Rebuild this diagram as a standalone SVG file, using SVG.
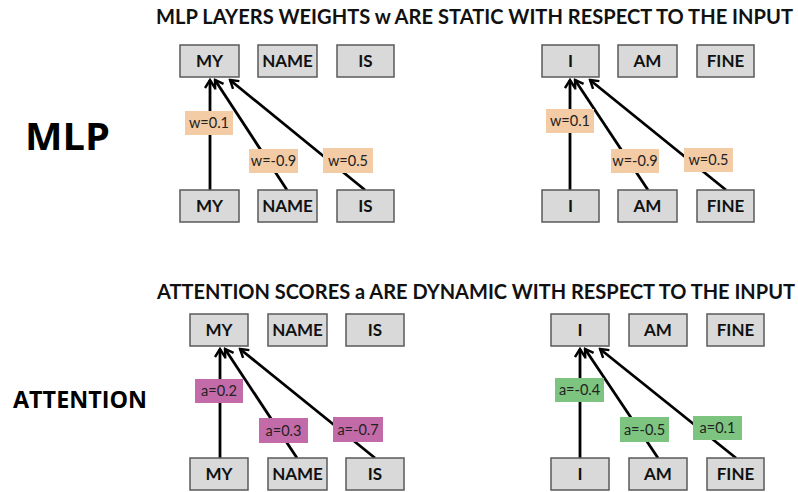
<svg xmlns="http://www.w3.org/2000/svg" width="798" height="492" viewBox="0 0 798 492">
<style>
.bg{fill:#ffffff}
.box{fill:#d9d9d9;stroke:#595959;stroke-width:1.5}
.bt{font-family:Lato,"Open Sans",sans-serif;font-weight:bold;font-size:17px;fill:#111;text-anchor:middle}
.title{font-family:Lato,"Open Sans",sans-serif;font-weight:bold;font-size:20px;fill:#111}
.side{font-family:"Open Sans","Noto Sans",sans-serif;font-weight:bold;fill:#000}
.lt{font-family:Lato,"Open Sans",sans-serif;font-size:14.5px;fill:#222;text-anchor:middle}
.w{fill:#f3cba4}
.ap{fill:#c26ba8}
.ag{fill:#7cc47f}
.edge{stroke:#000;stroke-width:2.8;fill:none;marker-end:url(#arr)}
</style>
<defs>
<marker id="arr" viewBox="0 0 12 12" refX="10" refY="6" markerWidth="12" markerHeight="12" markerUnits="userSpaceOnUse" orient="auto">
<path d="M2,1 L10,6 L2,11" fill="none" stroke="#000" stroke-width="2.4"/>
</marker>
</defs>
<rect class="bg" x="0" y="0" width="798" height="492"/>
<text class="title" x="156" y="24" textLength="637" lengthAdjust="spacingAndGlyphs">MLP LAYERS WEIGHTS w ARE STATIC WITH RESPECT TO THE INPUT</text>
<text class="title" x="157" y="299" textLength="638" lengthAdjust="spacingAndGlyphs">ATTENTION SCORES a ARE DYNAMIC WITH RESPECT TO THE INPUT</text>
<text class="side" x="25" y="150" font-size="38" textLength="85" lengthAdjust="spacingAndGlyphs">MLP</text>
<text class="side" x="13" y="408" font-size="23" textLength="134" lengthAdjust="spacingAndGlyphs">ATTENTION</text>

<!-- MLP left -->
<g transform="translate(180,45)">
<g id="connectors-mlp1">
<line class="edge" x1="30" y1="145" x2="30" y2="35"/>
<line class="edge" x1="107" y1="145" x2="35" y2="35"/>
<line class="edge" x1="185" y1="145" x2="50" y2="35"/>
</g>
<g id="mlp1-out-my"><rect class="box" x="0" y="0" width="59" height="32"/><text class="bt" x="29.5" y="22">MY</text></g>
<g id="mlp1-out-name"><rect class="box" x="78" y="0" width="59" height="32"/><text class="bt" x="107.5" y="22">NAME</text></g>
<g id="mlp1-out-is"><rect class="box" x="157" y="0" width="57" height="32"/><text class="bt" x="185.5" y="22">IS</text></g>
<g id="mlp1-in-my"><rect class="box" x="0" y="145" width="59" height="32"/><text class="bt" x="29.5" y="167">MY</text></g>
<g id="mlp1-in-name"><rect class="box" x="78" y="145" width="59" height="32"/><text class="bt" x="107.5" y="167">NAME</text></g>
<g id="mlp1-in-is"><rect class="box" x="157" y="145" width="57" height="32"/><text class="bt" x="185.5" y="167">IS</text></g>
<g id="mlp1-w1"><rect class="w" x="5" y="66" width="48" height="24"/><text class="lt" x="29" y="83">w=0.1</text></g>
<g id="mlp1-w2"><rect class="w" x="69" y="104" width="49" height="24"/><text class="lt" x="93.5" y="121">w=-0.9</text></g>
<g id="mlp1-w3"><rect class="w" x="143" y="103" width="50" height="25"/><text class="lt" x="168" y="120.5">w=0.5</text></g>
</g>

<!-- MLP right -->
<g transform="translate(542,45)">
<g id="connectors-mlp2">
<line class="edge" x1="28" y1="145" x2="28" y2="35"/>
<line class="edge" x1="106" y1="145" x2="33" y2="35"/>
<line class="edge" x1="184" y1="145" x2="48" y2="35"/>
</g>
<g id="mlp2-out-i"><rect class="box" x="0" y="0" width="57" height="32"/><text class="bt" x="28.5" y="22">I</text></g>
<g id="mlp2-out-am"><rect class="box" x="76" y="0" width="59" height="32"/><text class="bt" x="105.5" y="22">AM</text></g>
<g id="mlp2-out-fine"><rect class="box" x="155" y="0" width="57" height="32"/><text class="bt" x="183.5" y="22">FINE</text></g>
<g id="mlp2-in-i"><rect class="box" x="0" y="145" width="57" height="32"/><text class="bt" x="28.5" y="167">I</text></g>
<g id="mlp2-in-am"><rect class="box" x="76" y="145" width="59" height="32"/><text class="bt" x="105.5" y="167">AM</text></g>
<g id="mlp2-in-fine"><rect class="box" x="155" y="145" width="57" height="32"/><text class="bt" x="183.5" y="167">FINE</text></g>
<g id="mlp2-w1"><rect class="w" x="4" y="64" width="48" height="24"/><text class="lt" x="28" y="81">w=0.1</text></g>
<g id="mlp2-w2"><rect class="w" x="69" y="104" width="48" height="24"/><text class="lt" x="93" y="121">w=-0.9</text></g>
<g id="mlp2-w3"><rect class="w" x="142" y="103" width="49" height="24"/><text class="lt" x="166.5" y="120">w=0.5</text></g>
</g>

<!-- Attention left -->
<g transform="translate(190,314)">
<g id="connectors-att1">
<line class="edge" x1="30" y1="144" x2="30" y2="35"/>
<line class="edge" x1="107" y1="144" x2="35" y2="35"/>
<line class="edge" x1="185" y1="144" x2="50" y2="35"/>
</g>
<g id="att1-out-my"><rect class="box" x="0" y="0" width="58" height="32"/><text class="bt" x="29" y="22">MY</text></g>
<g id="att1-out-name"><rect class="box" x="78" y="0" width="59" height="32"/><text class="bt" x="107.5" y="22">NAME</text></g>
<g id="att1-out-is"><rect class="box" x="156" y="0" width="58" height="32"/><text class="bt" x="185" y="22">IS</text></g>
<g id="att1-in-my"><rect class="box" x="0" y="144" width="58" height="32"/><text class="bt" x="29" y="166">MY</text></g>
<g id="att1-in-name"><rect class="box" x="78" y="144" width="59" height="32"/><text class="bt" x="107.5" y="166">NAME</text></g>
<g id="att1-in-is"><rect class="box" x="156" y="144" width="58" height="32"/><text class="bt" x="185" y="166">IS</text></g>
<g id="att1-a1"><rect class="ap" x="5" y="65" width="48" height="24"/><text class="lt" x="29" y="82">a=0.2</text></g>
<g id="att1-a2"><rect class="ap" x="69" y="104" width="49" height="25"/><text class="lt" x="93.5" y="121.5">a=0.3</text></g>
<g id="att1-a3"><rect class="ap" x="143" y="103" width="50" height="25"/><text class="lt" x="168" y="120.5">a=-0.7</text></g>
</g>

<!-- Attention right -->
<g transform="translate(551,314)">
<g id="connectors-att2">
<line class="edge" x1="29" y1="144" x2="29" y2="35"/>
<line class="edge" x1="107" y1="144" x2="34" y2="35"/>
<line class="edge" x1="185" y1="144" x2="49" y2="35"/>
</g>
<g id="att2-out-i"><rect class="box" x="0" y="0" width="58" height="32"/><text class="bt" x="29" y="22">I</text></g>
<g id="att2-out-am"><rect class="box" x="78" y="0" width="58" height="32"/><text class="bt" x="107" y="22">AM</text></g>
<g id="att2-out-fine"><rect class="box" x="156" y="0" width="57" height="32"/><text class="bt" x="184.5" y="22">FINE</text></g>
<g id="att2-in-i"><rect class="box" x="0" y="144" width="58" height="32"/><text class="bt" x="29" y="166">I</text></g>
<g id="att2-in-am"><rect class="box" x="78" y="144" width="58" height="32"/><text class="bt" x="107" y="166">AM</text></g>
<g id="att2-in-fine"><rect class="box" x="156" y="144" width="57" height="32"/><text class="bt" x="184.5" y="166">FINE</text></g>
<g id="att2-a1"><rect class="ag" x="4" y="64" width="49" height="24"/><text class="lt" x="28.5" y="81">a=-0.4</text></g>
<g id="att2-a2"><rect class="ag" x="69" y="103" width="49" height="25"/><text class="lt" x="93.5" y="120.5">a=-0.5</text></g>
<g id="att2-a3"><rect class="ag" x="142" y="102" width="49" height="24"/><text class="lt" x="166.5" y="119">a=0.1</text></g>
</g>
</svg>
